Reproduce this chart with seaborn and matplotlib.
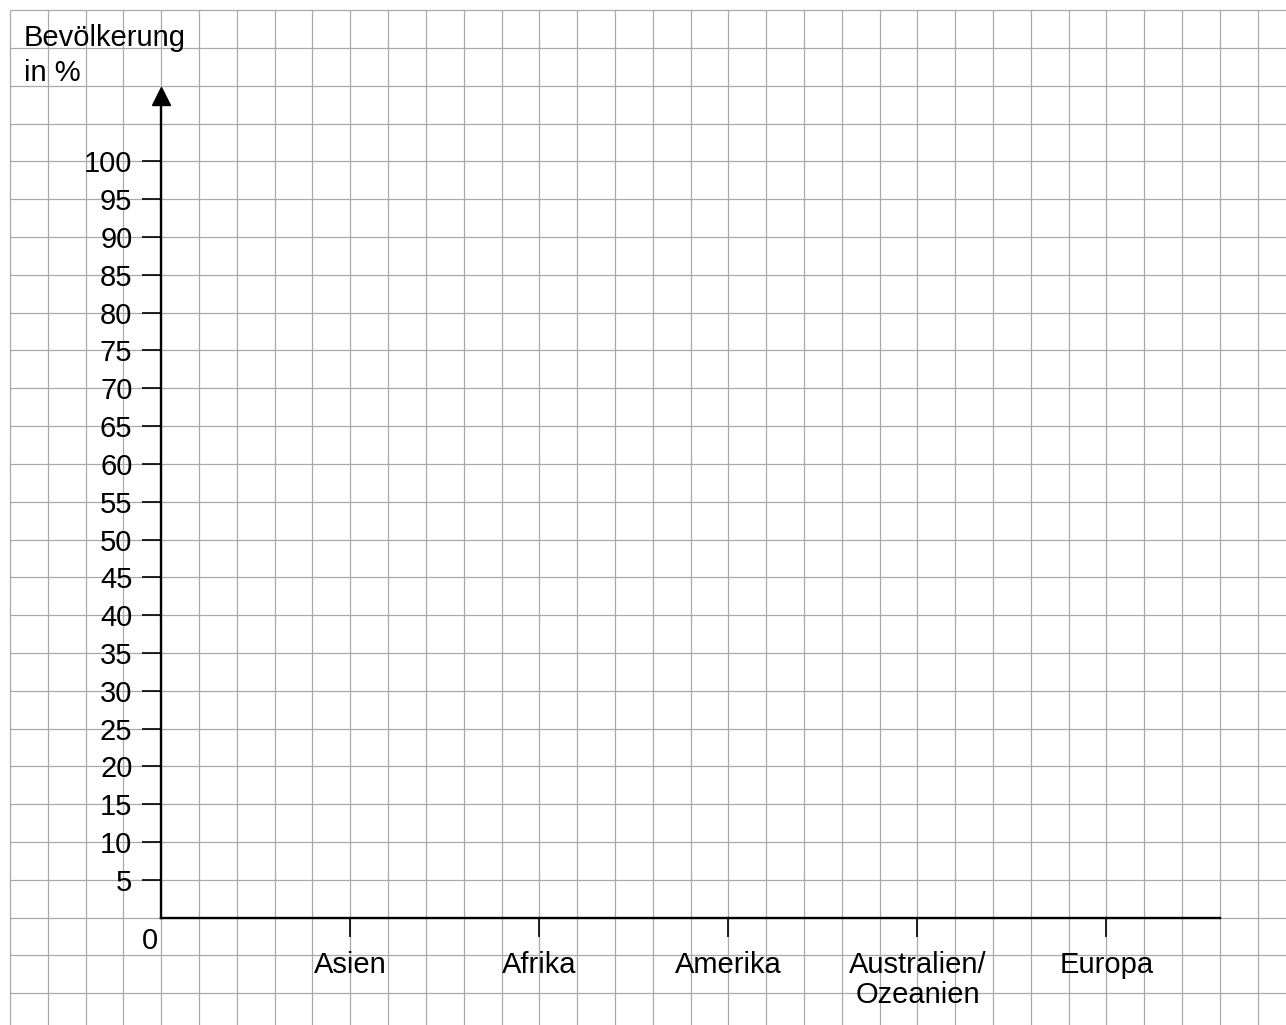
import matplotlib
matplotlib.use("Agg")
import matplotlib.pyplot as plt
import seaborn as sns

# Daten: leeres Arbeitsblatt-Diagramm (Werte werden von Hand eingetragen)
kontinente = ["Asien", "Afrika", "Amerika", "Australien/\nOzeanien", "Europa"]
anteil = [0, 0, 0, 0, 0]
y_ticks = list(range(5, 105, 5))
y_tick_labels = [str(v) for v in y_ticks]
y_titel = "Bevölkerung\nin %"

sns.set_style("white")
plt.rcParams["font.family"] = ["Liberation Sans", "DejaVu Sans"]

W, H = 1286, 1025
CELL = 37.81          # Kästchengröße in Pixel
GX, GY = 10, 10.2     # linke/obere Kante des Karopapiers
ox = GX + 4 * CELL    # Ursprung x (px)
oy = GY + 24 * CELL   # Ursprung y (px)
px_per_pct = CELL / 5

fig = plt.figure(figsize=(W / 100, H / 100), dpi=100)

# Karopapier im Hintergrund
bg = fig.add_axes([0, 0, 1, 1])
bg.set_xlim(0, W)
bg.set_ylim(H, 0)
bg.axis("off")
gx = [GX + k * CELL for k in range(34)]
gy = [GY + k * CELL for k in range(28)]
bg.vlines(gx, GY, H, color="#a9a9a9", lw=0.9)
bg.hlines(gy, GX, W, color="#a9a9a9", lw=0.9)
bg.text(24, 24, y_titel, ha="left", va="top", fontsize=21, color="black",
        linespacing=1.32)

# Diagrammachsen
y_top = 108.7
x_left, x_right = -1, 4.6
ax_w = (x_right - x_left) * 5 * CELL
ax_h = y_top * px_per_pct
ax = fig.add_axes([ox / W, (H - oy) / H, ax_w / W, ax_h / H])
ax.patch.set_alpha(0)

sns.barplot(x=kontinente, y=anteil, color="white", linewidth=0, ax=ax)

ax.set_xlim(x_left, x_right)
ax.set_ylim(0, y_top)
ax.set_xlabel("")
ax.set_ylabel("")
sns.despine(ax=ax, top=True, right=True)
for s in ["left", "bottom"]:
    ax.spines[s].set_color("black")
    ax.spines[s].set_linewidth(1.7)

ax.set_yticks(y_ticks)
ax.set_yticklabels(y_tick_labels)
ax.tick_params(axis="both", direction="out", length=13.7, width=1.2,
               color="black", labelsize=21, labelcolor="black",
               left=True, bottom=True)
ax.tick_params(axis="y", pad=7)
ax.tick_params(axis="x", pad=10)
for lab in ax.get_xticklabels():
    lab.set_linespacing(1.12)

# Pfeil an der y-Achse
ax.plot(x_left, y_top, marker="^", ms=13, color="black", clip_on=False)

# Null am Ursprung
ax.annotate("0", xy=(x_left, 0), xytext=(-2, -6.5), textcoords="offset points",
            ha="right", va="top", fontsize=21, color="black")

fig.savefig("out.png", dpi=100)
